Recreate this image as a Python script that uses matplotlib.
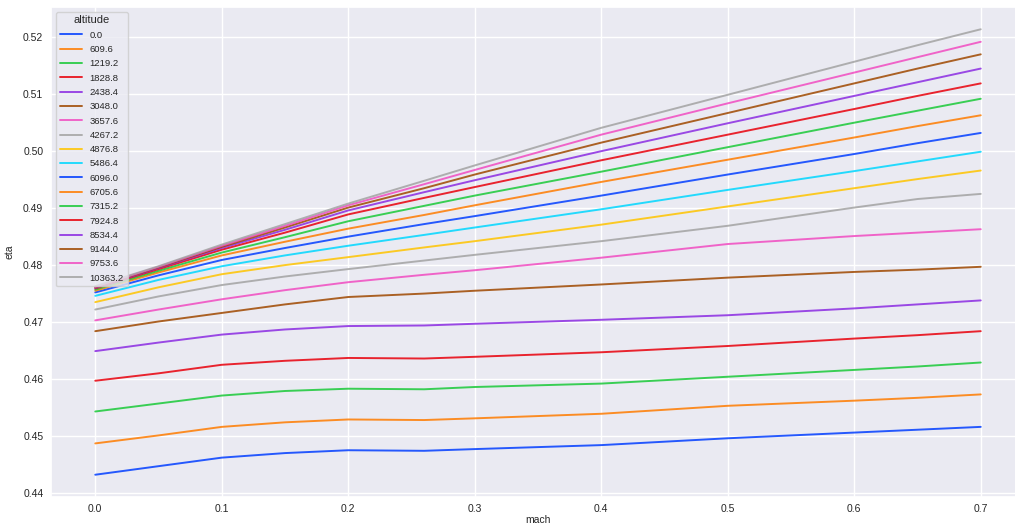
import matplotlib
matplotlib.use("Agg")
import matplotlib.pyplot as plt
import numpy as np
import pandas as pd
import seaborn as sns

# mach grid shared by every altitude curve
mach = [0.0, 0.05, 0.1, 0.15, 0.2, 0.26, 0.3, 0.4, 0.5, 0.6, 0.65, 0.7]

altitudes = [0.0, 609.6, 1219.2, 1828.8, 2438.4, 3048.0, 3657.6, 4267.2, 4876.8,
             5486.4, 6096.0, 6705.6, 7315.2, 7924.8, 8534.4, 9144.0, 9753.6, 10363.2]

# eta per altitude
eta_0 = [0.4432, 0.4447, 0.4462, 0.4470, 0.4475, 0.4474, 0.4477, 0.4484, 0.4496, 0.4506, 0.4511, 0.4516]
eta_609 = [0.4487, 0.4501, 0.4516, 0.4524, 0.4529, 0.4528, 0.4531, 0.4539, 0.4553, 0.4562, 0.4567, 0.4573]
eta_1219 = [0.4543, 0.4557, 0.4571, 0.4579, 0.4583, 0.4582, 0.4586, 0.4592, 0.4604, 0.4616, 0.4622, 0.4629]
eta_1828 = [0.4597, 0.4610, 0.4625, 0.4632, 0.4637, 0.4636, 0.4639, 0.4647, 0.4658, 0.4671, 0.4677, 0.4684]
eta_2438 = [0.4649, 0.4664, 0.4678, 0.4687, 0.4693, 0.4694, 0.4697, 0.4704, 0.4712, 0.4724, 0.4731, 0.4738]
eta_3048 = [0.4684, 0.4701, 0.4716, 0.4731, 0.4744, 0.4750, 0.4755, 0.4766, 0.4778, 0.4788, 0.4792, 0.4797]
eta_3657 = [0.4703, 0.4722, 0.4740, 0.4756, 0.4770, 0.4783, 0.4791, 0.4813, 0.4837, 0.4851, 0.4857, 0.4863]
eta_4267 = [0.4722, 0.4745, 0.4765, 0.4780, 0.4793, 0.4808, 0.4818, 0.4842, 0.4869, 0.4901, 0.4916, 0.4925]
eta_4876 = [0.4735, 0.4761, 0.4784, 0.4800, 0.4814, 0.4831, 0.4842, 0.4871, 0.4903, 0.4935, 0.4951, 0.4966]
eta_5486 = [0.4746, 0.4774, 0.4798, 0.4817, 0.4834, 0.4853, 0.4866, 0.4898, 0.4932, 0.4965, 0.4982, 0.4999]
eta_6096 = [0.4752, 0.4782, 0.4809, 0.4830, 0.4850, 0.4872, 0.4886, 0.4922, 0.4959, 0.4995, 0.5014, 0.5032]
eta_6705 = [0.4755, 0.4787, 0.4817, 0.4841, 0.4864, 0.4888, 0.4905, 0.4946, 0.4985, 0.5024, 0.5044, 0.5063]
eta_7315 = [0.4757, 0.4790, 0.4822, 0.4849, 0.4877, 0.4904, 0.4922, 0.4964, 0.5007, 0.5050, 0.5071, 0.5092]
eta_7924 = [0.4759, 0.4793, 0.4827, 0.4857, 0.4889, 0.4918, 0.4937, 0.4984, 0.5029, 0.5074, 0.5097, 0.5119]
eta_8534 = [0.4760, 0.4795, 0.4830, 0.4862, 0.4896, 0.4928, 0.4949, 0.5000, 0.5049, 0.5097, 0.5121, 0.5145]
eta_9144 = [0.4761, 0.4796, 0.4832, 0.4866, 0.4901, 0.4935, 0.4959, 0.5015, 0.5067, 0.5119, 0.5145, 0.5170]
eta_9753 = [0.4762, 0.4797, 0.4834, 0.4869, 0.4905, 0.4942, 0.4967, 0.5029, 0.5084, 0.5138, 0.5165, 0.5192]
eta_10363 = [0.4763, 0.4798, 0.4836, 0.4872, 0.4908, 0.4948, 0.4975, 0.5041, 0.5099, 0.5157, 0.5186, 0.5214]

eta_rows = [eta_0, eta_609, eta_1219, eta_1828, eta_2438, eta_3048, eta_3657, eta_4267, eta_4876,
            eta_5486, eta_6096, eta_6705, eta_7315, eta_7924, eta_8534, eta_9144, eta_9753, eta_10363]

records = []
for alt, row in zip(altitudes, eta_rows):
    for m, e in zip(mach, row):
        records.append({"mach": m, "eta": e, "altitude": alt})
df = pd.DataFrame(records)

sns.set_theme(style="darkgrid")
plt.rcParams['font.family'] = ['Liberation Sans', 'DejaVu Sans']

W, H = 1015, 529
fig = plt.figure(figsize=(W / 100, H / 100), dpi=100)
# axes runs a little past the right edge, like the cropped screenshot
ax = fig.add_axes([51 / W, 1 - 497 / H, (1025 - 51) / W, (497 - 7) / H])

sns.lineplot(data=df, x="mach", y="eta", hue="altitude", palette="bright",
             linewidth=1.4, alpha=0.85, ax=ax)

ax.set_xticks(np.arange(0, 0.71, 0.1))
ax.set_yticks(np.arange(0.44, 0.521, 0.01))
ax.tick_params(axis="both", length=0, labelsize=7.5)
ax.tick_params(axis="y", pad=5.5)
ax.tick_params(axis="x", pad=5)
ax.set_xlabel("mach", fontsize=7.5, labelpad=1)
ax.set_ylabel("eta", fontsize=7.5, labelpad=6)

leg = ax.legend(title="altitude", loc="upper left", fontsize=6.8, title_fontsize=8,
                labelspacing=0.56, handlelength=2.4, borderaxespad=0.5)
leg.get_frame().set_facecolor("#eaeaf2")
for h in leg.get_lines():
    h.set_alpha(0.85)

fig.savefig("out.png", dpi=100)
